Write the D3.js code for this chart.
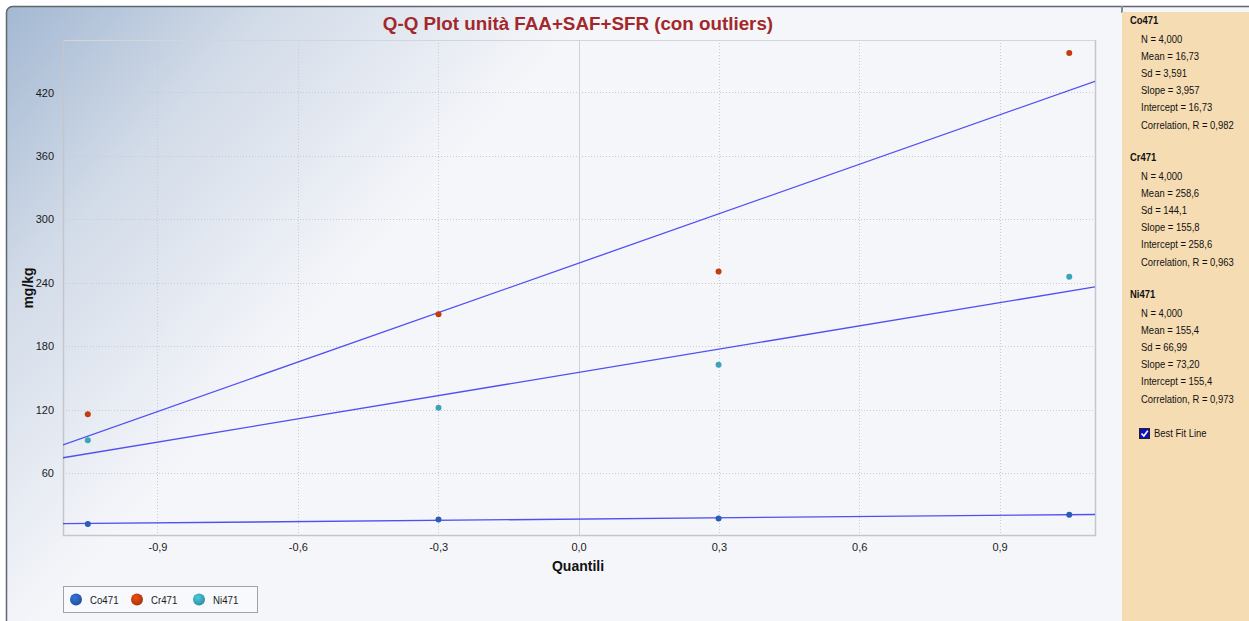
<!DOCTYPE html>
<html>
<head>
<meta charset="utf-8">
<script src="https://cdn.jsdelivr.net/npm/d3@7"></script>
<style>
  html, body { margin: 0; padding: 0; background: #ffffff; }
  svg { display: block; font-family: "Liberation Sans", Arial, sans-serif; }
</style>
</head>
<body>
<svg id="chart" width="1249" height="621"></svg>
<script>
// Normal quantiles (Blom positions) for n = 4
const quantiles = [-1.049, -0.2993, 0.2993, 1.049];

// Observed values per series (mg/kg), sorted
const seriesNames = ["Co471", "Cr471", "Ni471"];
const co471 = [12.2, 16.4, 17.4, 20.9];
const cr471 = [115.9, 210.4, 250.8, 457.3];
const ni471 = [91.2, 122.0, 162.6, 245.8];
const seriesValues = [co471, cr471, ni471];
const seriesColors = ["#2a5db5", "#c23d0d", "#3aa5b8"];

// Best-fit line parameters and summary stats per series
const fitSlopes = [3.957, 155.8, 73.20];
const fitIntercepts = [16.73, 258.6, 155.4];
const statN = ["4,000", "4,000", "4,000"];
const statMean = ["16,73", "258,6", "155,4"];
const statSd = ["3,591", "144,1", "66,99"];
const statSlope = ["3,957", "155,8", "73,20"];
const statIntercept = ["16,73", "258,6", "155,4"];
const statR = ["0,982", "0,963", "0,973"];

// Axis ticks
const xTicks = [-0.9, -0.6, -0.3, 0.0, 0.3, 0.6, 0.9];
const yTicks = [60, 120, 180, 240, 300, 360, 420];
const xDomain = [-1.102, 1.104];
const yDomain = [1.7, 469.6];

const svg = d3.select("#chart");
const defs = svg.append("defs");

const bg = defs.append("linearGradient").attr("id", "bgGrad")
  .attr("gradientUnits", "userSpaceOnUse")
  .attr("x1", 6).attr("y1", 6).attr("x2", 330).attr("y2", 300);
bg.append("stop").attr("offset", 0).attr("stop-color", "#a3b8d2");
bg.append("stop").attr("offset", 0.45).attr("stop-color", "#d2dbe8");
bg.append("stop").attr("offset", 1).attr("stop-color", "#f5f6fa");

seriesColors.forEach((c, i) => {
  const g = defs.append("radialGradient").attr("id", "ball" + i)
    .attr("cx", "40%").attr("cy", "35%").attr("r", "65%");
  g.append("stop").attr("offset", 0).attr("stop-color", d3.color(c).brighter(0.6));
  g.append("stop").attr("offset", 1).attr("stop-color", d3.color(c).darker(0.4));
});

// chart frame
svg.append("rect")
  .attr("x", 6.5).attr("y", 6.5).attr("width", 1280).attr("height", 660)
  .attr("rx", 6).attr("fill", "url(#bgGrad)")
  .attr("stroke", "#5f666d").attr("stroke-width", 1.5);

const plot = { left: 63, right: 1095, top: 40, bottom: 535 };
const x = d3.scaleLinear().domain(xDomain).range([plot.left, plot.right]);
const y = d3.scaleLinear().domain(yDomain).range([plot.bottom, plot.top]);

defs.append("clipPath").attr("id", "plotClip")
  .append("rect").attr("x", plot.left).attr("y", plot.top)
  .attr("width", plot.right - plot.left).attr("height", plot.bottom - plot.top);

const fmt = v => d3.format(".1f")(v).replace("−", "-").replace(".", ",");

// grid
const grid = svg.append("g");
grid.selectAll("line.gx").data(xTicks).join("line")
  .attr("x1", d => Math.round(x(d)) + 0.5).attr("x2", d => Math.round(x(d)) + 0.5)
  .attr("y1", plot.top).attr("y2", plot.bottom)
  .attr("stroke", d => d === 0 ? "#cfd1d6" : "#c9cbd0")
  .attr("stroke-dasharray", d => d === 0 ? null : "1,2");
grid.selectAll("line.gy").data(yTicks).join("line")
  .attr("x1", plot.left).attr("x2", plot.right)
  .attr("y1", d => Math.round(y(d)) + 0.5).attr("y2", d => Math.round(y(d)) + 0.5)
  .attr("stroke", "#c9cbd0").attr("stroke-dasharray", "1,2");

// plot border
svg.append("rect")
  .attr("x", plot.left + 0.5).attr("y", plot.top + 0.5)
  .attr("width", plot.right - plot.left).attr("height", plot.bottom - plot.top)
  .attr("fill", "none").attr("stroke", "#d3d5da");
svg.append("path")
  .attr("d", `M${plot.left + 0.5},${plot.top}V${plot.bottom + 0.5}H${plot.right + 0.5}V${plot.top}`)
  .attr("fill", "none").attr("stroke", "#c4c6cc").attr("stroke-width", 1.5);

// axes
const xAxis = d3.axisBottom(x).tickValues(xTicks).tickFormat(fmt).tickSize(0).tickPadding(8);
const gx = svg.append("g").attr("transform", `translate(0,${plot.bottom})`).call(xAxis);
gx.select(".domain").remove();
gx.selectAll("text").attr("font-size", 11).attr("fill", "#1a1a1a")
  .attr("font-family", "'Liberation Sans', Arial, sans-serif");

const yAxis = d3.axisLeft(y).tickValues(yTicks).tickFormat(d3.format("d")).tickSize(0).tickPadding(9);
const gy = svg.append("g").attr("transform", `translate(${plot.left},0)`).call(yAxis);
gy.select(".domain").remove();
gy.selectAll("text").attr("font-size", 11).attr("fill", "#1a1a1a")
  .attr("font-family", "'Liberation Sans', Arial, sans-serif");

// fit lines
const lines = svg.append("g").attr("clip-path", "url(#plotClip)");
seriesNames.forEach((name, i) => {
  lines.append("line")
    .attr("x1", x(xDomain[0])).attr("y1", y(fitIntercepts[i] + fitSlopes[i] * xDomain[0]))
    .attr("x2", x(xDomain[1])).attr("y2", y(fitIntercepts[i] + fitSlopes[i] * xDomain[1]))
    .attr("stroke", "#3d3df2").attr("stroke-opacity", 0.9).attr("stroke-width", 1.3);
});

// points
const pts = svg.append("g");
seriesValues.forEach((vals, i) => {
  pts.selectAll(null).data(vals).join("circle")
    .attr("cx", (d, j) => x(quantiles[j]))
    .attr("cy", d => y(d))
    .attr("r", 3)
    .attr("fill", seriesColors[i]);
});

// titles
svg.append("text").attr("x", 578).attr("y", 30).attr("text-anchor", "middle")
  .attr("font-family", "Arial, 'Liberation Sans', sans-serif")
  .attr("font-size", 18.8).attr("font-weight", "bold").attr("fill", "#a3282b")
  .text("Q-Q Plot unità FAA+SAF+SFR (con outliers)");
svg.append("text").attr("x", 578).attr("y", 571).attr("text-anchor", "middle")
  .attr("font-size", 14).attr("font-weight", "bold").attr("fill", "#111")
  .text("Quantili");
svg.append("text").attr("transform", "translate(33,288) rotate(-90)").attr("text-anchor", "middle")
  .attr("font-size", 14).attr("font-weight", "bold").attr("fill", "#111")
  .text("mg/kg");

// narrow text helper: places a horizontally condensed label
function narrowText(parent, tx, ty, str, sx) {
  return parent.append("text")
    .attr("transform", `translate(${tx},${ty}) scale(${sx},1)`)
    .text(str);
}

// legend
const leg = svg.append("g").attr("font-size", 11).attr("fill", "#1a1a1a");
leg.append("rect").attr("x", 63.5).attr("y", 586.5).attr("width", 194).attr("height", 26)
  .attr("fill", "#f8f9fc").attr("stroke", "#9ea4ab");
const legX = [76, 137, 199];
seriesNames.forEach((name, i) => {
  leg.append("circle").attr("cx", legX[i]).attr("cy", 599.5).attr("r", 6)
    .attr("fill", `url(#ball${i})`);
  narrowText(leg, legX[i] + 14, 603.5, name, 0.88);
});

// statistics panel
svg.append("rect").attr("x", 1121).attr("y", 6).attr("width", 2).attr("height", 7).attr("fill", "#8a8f95");
svg.append("rect").attr("x", 1122).attr("y", 12).attr("width", 127).attr("height", 609).attr("fill", "#f6dcb3");
const panel = svg.append("g").attr("font-size", 11).attr("fill", "#111");
seriesNames.forEach((name, i) => {
  const top = 24 + i * 137;
  narrowText(panel, 1130, top, name, 0.86).attr("font-weight", "bold");
  const rows = [
    "N = " + statN[i],
    "Mean = " + statMean[i],
    "Sd = " + statSd[i],
    "Slope = " + statSlope[i],
    "Intercept = " + statIntercept[i],
    "Correlation, R = " + statR[i]
  ];
  rows.forEach((r, k) => {
    narrowText(panel, 1141, top + 19 + k * 17.1, r, 0.86);
  });
});
// checkbox
panel.append("rect").attr("x", 1139.5).attr("y", 428.5).attr("width", 10).attr("height", 10)
  .attr("fill", "#1010c0").attr("stroke", "#222");
panel.append("path").attr("d", "M1141.5,433.5 L1143.8,436 L1147.8,430.8")
  .attr("fill", "none").attr("stroke", "#ffffff").attr("stroke-width", 1.6);
narrowText(panel, 1154, 437, "Best Fit Line", 0.86);
</script>
</body>
</html>
